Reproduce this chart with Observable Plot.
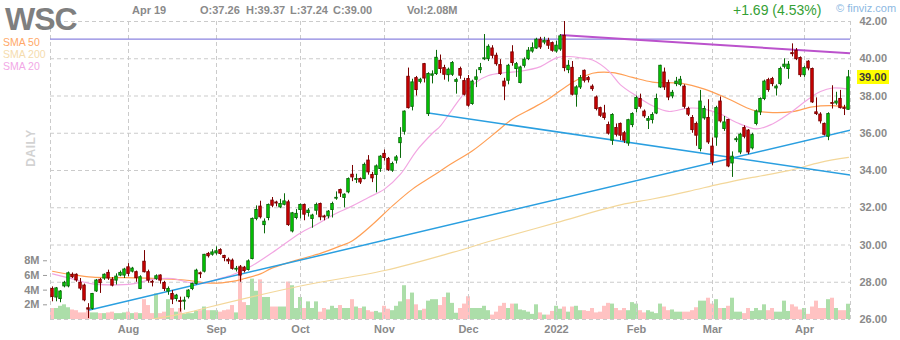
<!DOCTYPE html>
<html>
<head>
<meta charset="utf-8">
<script src="https://cdn.jsdelivr.net/npm/d3@7"></script>
<script src="https://cdn.jsdelivr.net/npm/@observablehq/plot@0.6"></script>
<style>
  html, body { margin: 0; padding: 0; background: #fff; }
  #wrap { position: relative; width: 900px; height: 340px; overflow: hidden; font-family: "Liberation Sans", Arial, sans-serif; }
  .layer { position: absolute; left: 0; top: 0; }
  .t { position: absolute; line-height: 1; white-space: pre; }
  .hdr { font-size: 11px; font-weight: bold; color: #8a8a8a; }
  .sma { font-size: 10.5px; }
</style>
</head>
<body>
<div id="wrap">
  <div id="vol" class="layer"></div>
  <div id="price" class="layer"></div>
</div>
<script>
// WSC daily bars, Jul 2021 – Apr 19 2022 (one entry per trading day)
const open = [
27.64,27.18,27.10,27.78,27.78,28.40,28.40,27.97,27.82,26.60,26.57,27.51,28.13,28.20,28.50,28.14,28.09,28.36,28.36,28.80,
28.57,28.54,27.64,29.10,28.54,28.02,28.18,28.36,27.96,27.50,27.37,27.10,26.99,26.96,27.20,27.64,27.91,28.48,28.57,29.52,
29.48,29.55,29.73,29.41,29.20,29.16,28.68,28.80,28.78,28.66,29.25,31.40,32.06,31.07,31.45,32.38,32.28,32.02,32.16,32.29,
30.73,31.45,31.88,32.15,31.72,31.40,31.84,32.20,31.53,31.54,31.88,32.49,32.95,32.53,32.83,33.77,33.50,33.54,33.54,34.53,
33.76,33.76,34.08,34.89,34.62,33.99,34.53,35.47,36.08,39.03,37.42,38.96,38.76,39.71,37.03,39.09,39.18,39.89,39.50,39.12,
39.14,38.76,39.45,38.80,38.91,37.57,38.87,39.39,39.97,39.98,40.55,40.16,39.66,38.77,38.82,40.34,39.45,38.70,39.62,39.98,
40.39,40.55,41.02,40.87,40.96,40.84,40.39,40.50,41.23,39.39,39.51,38.07,38.46,39.35,38.96,38.50,37.92,37.35,37.06,36.44,
35.60,36.28,36.50,36.00,35.45,36.44,37.30,37.84,37.16,36.67,36.71,37.06,38.46,39.26,38.69,37.98,38.64,38.60,38.50,37.30,
36.82,36.50,35.15,36.80,36.82,35.28,35.77,37.70,36.23,36.71,34.38,35.63,34.97,36.28,36.14,35.19,36.50,37.12,37.84,38.85,
38.91,38.41,38.64,39.57,39.45,40.30,40.43,40.04,39.12,39.84,39.45,37.12,37.00,36.50,35.81,37.62,37.60,37.84,37.35,37.26];
const high = [
27.75,27.72,27.55,28.05,28.55,28.50,28.45,28.20,27.90,26.85,27.40,28.15,28.20,28.45,28.65,28.25,28.45,28.60,28.75,29.00,
28.80,28.60,28.35,29.70,28.65,28.10,28.40,28.40,28.05,27.75,27.55,27.35,27.20,27.20,27.60,27.95,28.70,28.55,29.50,29.60,
29.75,29.90,29.80,29.45,29.30,29.25,28.85,28.90,28.85,29.20,31.45,32.10,32.35,31.40,32.20,32.55,32.35,32.45,32.75,32.40,
31.75,31.90,32.20,32.20,31.95,31.65,32.25,32.25,31.60,31.85,32.30,32.85,33.00,32.75,33.60,34.27,33.80,33.60,34.40,34.80,
33.90,34.30,34.80,35.10,34.70,34.45,34.80,36.30,37.20,39.50,38.90,39.05,38.95,39.75,39.25,39.35,40.45,40.20,39.65,39.50,
39.85,38.95,39.55,38.95,39.10,38.85,39.40,39.75,41.30,40.75,40.70,40.30,39.95,38.95,39.70,40.70,39.80,39.60,40.05,40.60,
40.85,41.10,41.15,41.15,41.10,40.90,40.95,41.30,42.00,39.90,39.85,38.55,39.10,39.40,39.05,38.60,38.00,37.40,37.50,36.60,
37.05,36.50,36.55,36.10,36.75,37.10,38.00,38.10,37.25,36.90,37.10,38.10,39.65,39.50,38.85,38.30,39.00,39.05,38.60,37.40,
36.95,36.60,38.30,37.45,37.80,35.75,37.45,37.95,36.90,36.75,35.00,35.80,36.00,36.40,36.20,36.00,37.25,37.90,38.85,38.95,
39.00,38.60,39.55,40.00,39.85,40.80,40.55,40.10,39.60,39.90,39.50,37.90,37.10,36.55,37.10,38.55,38.20,38.30,37.50,39.37];
const low = [
26.95,26.95,26.90,27.70,27.70,28.20,28.00,27.55,26.95,26.05,26.50,27.45,27.40,28.10,28.10,27.75,27.85,28.30,28.20,28.30,
28.50,28.00,27.60,28.50,27.95,27.75,28.10,27.90,27.50,27.30,26.80,26.95,26.40,26.50,27.10,27.55,27.85,28.20,28.50,29.30,
29.40,29.45,29.45,29.10,28.95,28.65,28.55,28.00,28.50,28.60,29.20,31.30,31.40,30.60,31.30,32.00,32.05,31.95,32.10,31.00,
30.65,31.35,31.40,31.30,31.50,30.90,31.60,31.30,31.30,31.40,31.45,32.40,32.55,32.00,32.75,33.40,33.30,33.25,33.50,33.75,
33.35,32.80,33.90,34.50,33.95,33.90,34.35,34.65,35.90,37.30,37.20,38.00,38.65,38.70,36.90,38.65,39.10,39.20,38.85,38.75,
39.05,38.10,38.90,38.00,37.40,37.50,38.45,39.20,39.90,39.85,40.00,39.60,39.10,37.75,38.60,39.60,39.00,38.65,39.50,39.90,
40.30,40.50,40.50,40.75,40.50,40.35,40.30,40.40,39.30,39.20,38.00,37.40,38.35,38.70,38.70,38.25,37.20,36.85,36.70,35.90,
35.35,35.80,35.60,35.45,35.30,36.30,37.10,37.30,36.80,36.20,36.50,37.00,38.40,38.30,37.75,37.85,38.50,38.50,37.30,36.90,
36.00,35.30,35.00,36.70,35.40,34.25,35.30,36.55,36.10,34.15,33.63,35.50,34.85,35.70,34.85,35.10,36.40,36.95,37.75,38.20,
38.50,38.00,38.55,39.45,38.90,40.10,39.90,39.00,39.00,39.35,37.60,36.95,36.50,35.85,35.60,37.30,37.50,37.30,36.95,37.24];
const close = [
27.21,27.67,27.50,27.97,28.48,28.27,28.10,27.66,27.03,26.53,27.37,28.09,27.95,28.40,28.20,27.82,28.30,28.50,28.68,28.45,
28.73,28.22,28.27,28.54,28.09,27.98,28.32,28.09,27.64,27.64,27.07,27.28,26.94,27.01,27.55,27.91,28.62,28.43,29.47,29.40,
29.60,29.66,29.52,29.30,29.12,28.72,28.72,28.36,28.60,29.12,31.40,31.88,31.49,31.25,32.15,32.11,32.23,32.20,32.34,31.07,
31.70,31.67,32.15,31.63,31.84,31.58,32.15,31.49,31.48,31.79,32.20,32.53,32.77,32.70,33.54,33.63,33.54,33.36,34.30,33.90,
33.58,34.22,34.74,34.67,34.03,34.35,34.70,35.74,37.16,37.35,38.73,38.32,38.87,38.94,39.18,39.16,40.05,39.45,39.14,39.41,
39.77,38.85,39.09,38.07,37.48,38.77,39.00,39.50,40.02,40.64,40.16,39.71,39.18,38.51,39.62,39.77,39.71,39.53,39.95,40.43,
40.57,41.02,40.61,40.96,40.70,40.43,40.70,41.20,39.50,39.62,38.07,38.46,38.96,38.82,38.85,38.37,37.30,36.94,36.82,35.98,
36.98,35.92,35.87,35.60,36.70,37.03,37.89,37.42,36.91,36.76,36.98,37.84,39.62,38.46,37.92,38.17,38.77,38.87,37.42,37.00,
36.17,35.87,37.70,37.30,35.51,34.44,37.35,36.64,36.58,34.22,34.74,35.68,35.92,35.81,34.97,35.90,37.17,37.84,38.77,38.32,
38.64,38.50,39.45,39.68,39.68,40.25,39.98,39.12,39.50,39.48,37.66,37.03,36.64,35.92,37.03,37.58,37.70,37.35,37.31,39.00];
// daily volume, millions of shares
const volume = [
1.5,1.5,1.8,2.0,1.6,1.3,1.2,0.9,0.9,1.2,0.9,0.9,0.8,0.8,0.9,1.0,0.8,0.8,0.9,1.0,
0.8,0.9,0.8,2.7,1.9,0.8,3.5,0.8,1.0,2.7,1.5,1.0,1.5,0.7,0.8,0.8,1.1,1.2,1.7,1.2,
1.2,1.2,1.0,1.2,1.3,1.9,0.9,7.3,2.3,1.9,5.5,3.85,5.4,3.0,3.0,1.7,1.7,1.7,1.7,5.1,
4.6,1.5,3.0,1.5,2.4,1.5,2.4,1.0,1.5,1.3,1.8,1.5,1.9,1.5,1.5,2.7,1.7,1.5,1.7,1.2,
1.0,1.1,0.9,1.8,1.4,1.2,1.8,2.4,4.6,2.7,3.6,2.0,1.2,1.4,2.5,2.7,2.7,1.9,3.0,3.6,
2.2,0.85,1.5,2.1,3.1,1.5,1.5,1.5,1.8,1.2,0.6,1.0,1.8,2.2,1.5,2.1,2.1,1.3,1.2,1.0,
0.7,2.0,0.9,0.6,0.6,1.1,1.8,1.4,1.7,1.0,1.7,1.8,1.2,1.2,1.1,1.5,0.9,1.0,1.8,2.2,
2.1,1.5,1.2,1.5,1.2,2.3,2.1,1.2,0.9,1.2,1.0,0.8,2.1,1.7,1.2,1.3,1.0,1.0,1.0,1.0,
1.2,1.6,2.5,2.5,2.9,2.1,2.7,1.5,1.5,1.8,2.9,1.0,1.0,0.8,1.5,1.1,1.5,1.2,2.0,1.2,
1.5,1.0,1.0,2.5,1.1,2.0,1.7,1.3,1.5,0.7,1.7,2.5,1.5,1.5,2.7,2.9,1.5,1.2,1.2,2.08];

// first trading day of each month (bar index) and its label
const monthStarts = [19, 41, 62, 83, 104, 126, 146, 165, 188];
const monthLabels = ["Aug", "Sep", "Oct", "Nov", "Dec", "2022", "Feb", "Mar", "Apr"];
const priceTicks = [26, 28, 30, 32, 34, 36, 38, 40, 42];
const volumeTicks = [2, 4, 6, 8];
const lastDateLabel = "Apr 19";

// moving averages as [bar index, value]
const sma20 = [[0,28.45],[5,28.18],[10,27.91],[15,27.86],[20,27.91],[25,28.15],[30,28.2],[34,28.0],[38,27.95],[41,28.15],
  [45,28.4],[48,28.7],[50,28.9],[55,29.6],[62,30.65],[66,31.1],[70,31.6],[75,32.1],[79,32.55],[83,33.0],[87,33.8],[91,35.06],
  [95,36.0],[97,36.4],[100,37.3],[103,38.15],[106,38.75],[109,39.1],[113,39.25],[117,39.33],[122,39.58],[126,40.05],[129,40.12],
  [132,40.05],[135,39.93],[139,39.35],[142,38.6],[146,38.0],[150,37.48],[154,37.17],[159,37.35],[163,37.3],[167,37.03],
  [171,36.58],[176,36.23],[180,36.5],[184,37.03],[189,37.84],[192,38.24],[195,38.43],[199,38.37]];
const sma50 = [[0,28.59],[5,28.4],[10,28.27],[17,28.25],[25,28.21],[33,28.12],[40,27.95],[45,28.05],[48,28.2],[52,28.45],
  [55,28.77],[62,29.25],[67,29.55],[72,29.95],[75,30.23],[80,31.1],[85,32.1],[90,33.0],[95,33.7],[100,34.4],[105,35.06],
  [110,35.9],[115,36.76],[120,37.35],[124,37.84],[130,38.73],[135,39.22],[140,39.26],[145,39.0],[150,38.75],[157,38.69],
  [163,38.37],[169,37.84],[175,37.25],[179,37.12],[185,37.16],[190,37.42],[195,37.48],[199,37.39]];
const sma200 = [[20,25.85],[24,25.98],[34,26.38],[39,26.66],[62,27.8],[83,28.63],[100,29.6],[110,30.24],[126,31.2],
  [142,32.15],[150,32.47],[159,32.88],[167,33.28],[175,33.63],[184,33.99],[192,34.44],[199,34.7]];

// drawn trend lines: [x in bar units, price]
const resistanceLevel = 41.05;
const topTrend = [[127.5, 41.27], [200, 40.3]];
const riseTrend = [[9.5, 26.5], [200, 36.17]];
const fallTrend = [[94.5, 37.09], [200, 33.76]];

const bars = close.map((c, i) => ({
  i, o: open[i], h: high[i], l: low[i], c, v: volume[i], up: c >= open[i]
}));

const W = 900, H = 340;
const margins = { marginLeft: 50, marginRight: 50, marginTop: 21, marginBottom: 21 };
const font = "'Liberation Sans', Arial, sans-serif";
const gridStyle = { stroke: "#cbcbcb", strokeOpacity: 1, strokeDasharray: "4,3" };
const labelAt = new Map(monthStarts.map((t, k) => [t + 0.5, monthLabels[k]]));

// volume layer (behind the price layer)
const volChart = Plot.plot({
  width: W, height: H, ...margins,
  style: { background: "transparent", fontFamily: font, fontSize: "11px", fontWeight: "bold", color: "#8a8a8a", overflow: "visible" },
  x: { type: "linear", domain: [0, 200], axis: null },
  y: { type: "linear", domain: [0, 40.6], axis: null },
  marks: [
    Plot.rect(bars, {
      x1: d => d.i, x2: d => d.i + 1, y1: () => 0, y2: "v",
      fill: d => d.up ? "#acdea9" : "#ffc2c2"
    }),
    Plot.axisY({ ticks: volumeTicks, anchor: "left", label: null, tickSize: 4, tickPadding: 4, dx: -3,
      tickFormat: d => d + "M", stroke: "#9a9a9a", fill: "#8a8a8a" })
  ]
});
document.getElementById("vol").appendChild(volChart);

const line = (pts, o) => Plot.line(pts, { x: d => d[0] + 0.5, y: d => d[1], curve: "catmull-rom", clip: true, ...o });
const trend = (pts, o) => Plot.line(pts, { x: d => d[0], y: d => d[1], clip: true, ...o });

const priceChart = Plot.plot({
  width: W, height: H, ...margins,
  style: { background: "transparent", fontFamily: font, fontSize: "11px", fontWeight: "bold", color: "#8a8a8a", overflow: "visible" },
  x: { type: "linear", domain: [0, 200], axis: null },
  y: { type: "linear", domain: [26, 42], axis: null },
  marks: [
    Plot.ruleY(priceTicks, { y: d => d, ...gridStyle }),
    Plot.ruleX([0, ...monthStarts.map(t => t + 0.5), 200], { x: d => d, ...gridStyle }),
    Plot.axisX({ ticks: monthStarts.map(t => t + 0.5), label: null, tickSize: 0, tickPadding: 6,
      tickFormat: d => labelAt.get(d), fill: "#8a8a8a" }),
    Plot.axisY({ ticks: priceTicks, anchor: "right", label: null, tickSize: 0, tickPadding: 9,
      tickFormat: d => d.toFixed(2), fill: "#8a8a8a" }),
    line(sma200, { stroke: "#f3d79a", strokeWidth: 1.2 }),
    line(sma50, { stroke: "#ff9f55", strokeWidth: 1.2 }),
    line(sma20, { stroke: "#f2a6e2", strokeWidth: 1.2 }),
    Plot.ruleY([resistanceLevel], { y: d => d, stroke: "#8b84e0", strokeWidth: 1.3 }),
    trend(riseTrend, { stroke: "#2a9fe0", strokeWidth: 1.5 }),
    trend(fallTrend, { stroke: "#2a9fe0", strokeWidth: 1.5 }),
    trend(topTrend, { stroke: "#bb52cc", strokeWidth: 2 }),
    Plot.ruleX(bars, { x: d => d.i + 0.5, y1: "l", y2: "h",
      stroke: d => d.up ? "#0b6a0b" : "#7a0000", strokeWidth: 1 }),
    Plot.rect(bars, { x1: d => d.i + 0.2, x2: d => d.i + 0.8, y1: "o", y2: "c",
      fill: d => d.up ? "#00e000" : "#e00000",
      stroke: d => d.up ? "#0b6a0b" : "#7a0000", strokeWidth: 1 })
  ]
});
document.getElementById("price").appendChild(priceChart);

// header, legend and last-price labels
const wrap = document.getElementById("wrap");
function label(text, style, cls = "t") {
  const el = document.createElement("div");
  el.className = cls;
  el.textContent = text;
  Object.assign(el.style, style);
  wrap.appendChild(el);
  return el;
}
const n = close.length - 1;
const change = close[n] - close[n - 1];
const pct = change / close[n - 1] * 100;

label("WSC", { left: "5px", top: "3px", fontSize: "32px", fontWeight: "bold", letterSpacing: "-1px", color: "#7f7f7f" });
label(lastDateLabel, { left: "132px", top: "5px" }, "t hdr");
label("O:" + open[n].toFixed(2), { left: "200px", top: "5px" }, "t hdr");
label("H:" + high[n].toFixed(2), { left: "246px", top: "5px" }, "t hdr");
label("L:" + low[n].toFixed(2), { left: "290px", top: "5px" }, "t hdr");
label("C:" + close[n].toFixed(2), { left: "333px", top: "5px" }, "t hdr");
label("Vol:" + volume[n].toFixed(2) + "M", { left: "407px", top: "5px" }, "t hdr");
label((change >= 0 ? "+" : "") + change.toFixed(2) + " (" + pct.toFixed(2) + "%)",
  { left: "733px", top: "3px", fontSize: "14px", color: "#35a035" });
label("\u00a9 finviz.com", { left: "836px", top: "3px", fontSize: "11px", color: "#8cb8e2" });

label("SMA 50", { left: "3px", top: "37px", color: "#ffa868" }, "t sma");
label("SMA 200", { left: "3px", top: "49px", color: "#f5dcae" }, "t sma");
label("SMA 20", { left: "3px", top: "61px", color: "#f2a8e6" }, "t sma");

label("DAILY", { left: "31px", top: "148px", fontSize: "12px", fontWeight: "bold", color: "#d2d2d2",
  transform: "translate(-50%, -50%) rotate(-90deg)", letterSpacing: "0.5px" });

// last close tag on the price axis
const yLast = priceChart.scale("y").apply(close[n]);
label(close[n].toFixed(2), {
  left: "857px", top: (yLast - 7) + "px", height: "14px", lineHeight: "14px", padding: "0 2px",
  background: "#ffff00", color: "#3a3a3a", fontSize: "11px", fontWeight: "bold"
});
</script>
</body>
</html>
